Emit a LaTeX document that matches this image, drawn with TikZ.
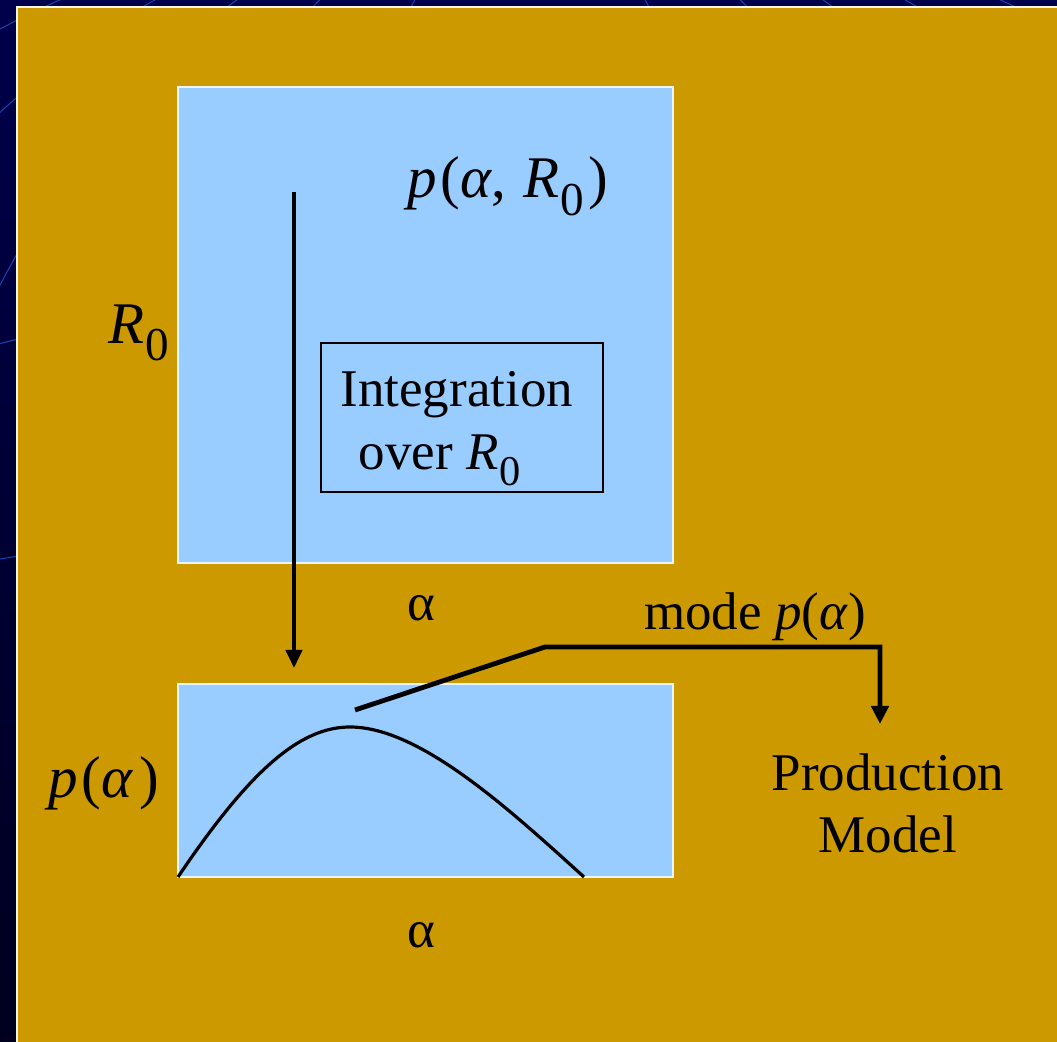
\documentclass[tikz,border=0pt]{standalone}
\usepackage{fontspec}
\setmainfont{Liberation Serif}
\usetikzlibrary{positioning,calc,arrows.meta}
\definecolor{navytop}{RGB}{0,0,75}
\definecolor{navybot}{RGB}{0,0,30}
\definecolor{globeline}{RGB}{20,70,180}
\definecolor{goldfill}{RGB}{204,153,0}
\definecolor{skyfill}{RGB}{153,204,255}
\newcommand{\Rzero}{\textit{R}\kern0.02em\raisebox{-0.3em}{\scalebox{0.8}{0}}}
\newcommand{\alp}{\textit{α}}

\begin{document}
\begin{tikzpicture}[
  x=0.5pt, y=-0.5pt,
  panel/.style={draw=white!80!skyfill, line width=1pt, fill=skyfill},
  lbl/.style={font=\fontsize{26.5}{31}\selectfont, inner sep=0pt, align=center},
  mathlbl/.style={font=\fontsize{29.5}{34}\selectfont, inner sep=0pt},
  intbox/.style={draw=black, line width=0.8pt, fill=none, align=left,
                 minimum width=141pt, minimum height=74.5pt,
                 font=\fontsize{26.5}{31.5}\selectfont},
  flowarr/.style={-{Triangle[length=9pt,width=8pt]}, line width=2pt},
  modearr/.style={-{Triangle[length=9pt,width=8.5pt]}, line width=2.4pt},
  densline/.style={line width=1.6pt},
]
\useasboundingbox (0,0) rectangle (1057,1042);

% background
\shade[top color=navytop, bottom color=navybot] (0,0) rectangle (1057,1042);
\foreach \rx in {264,482,672,860,1078}
  \draw[globeline, line width=0.5pt] (530,900) ellipse ({\rx} and 1000);
\foreach \ry in {380,620}
  \draw[globeline, line width=0.5pt] (530,900) ellipse (1200 and {\ry});
\filldraw[draw=white!90!goldfill, line width=1pt, fill=goldfill] (17,7) rectangle (1070,1060);

% panels
\filldraw[panel] (178,87) rectangle (673,563);
\filldraw[panel] (178,684) rectangle (673,877);

% labels
\node[mathlbl] (joint)  at (508,186) {\textit{p}\kern0.06em(\alp,\kern0.3em\Rzero\kern0.08em)};
\node[mathlbl] (rlab)   at (139,333) {\Rzero};
\node[lbl] (aupper) at (421,608) {α};
\node[lbl] (alower) at (421,935) {α};
\node[mathlbl] (plab)   at (104,783) {\textit{p}\kern0.06em(\alp\kern0.1em)};
\node[lbl] (modelab) at (755,617) {mode \textit{p}(\alp)};
\node[lbl] (prod)   at (888,803) {Production\\Model};

\node[intbox] (integ) at (462,417.5)
  {\rule{0pt}{1.07em}\hspace*{-0.2em}Integration\\\hspace*{0.15em}over \Rzero};

% integration arrow
\coordinate (intstart) at (294,192);
\coordinate (intend)   at (294,668);
\draw[flowarr] (intstart) -- (intend);

% marginal density
\coordinate (dleft)  at (178,877);
\coordinate (dpeak)  at (350,727);
\coordinate (dright) at (584,877);
\draw[densline] (dleft) .. controls (250,770) and (300,727) .. (dpeak)
  .. controls (420,727) and (510,810) .. (dright);

% mode to production model
\coordinate (modetail) at (355,710);
\coordinate (modebend) at (545,647);
\coordinate (modetip)  at (880,724);
\draw[modearr] (modetail) -- (modebend) -| (modetip);

\end{tikzpicture}
\end{document}
